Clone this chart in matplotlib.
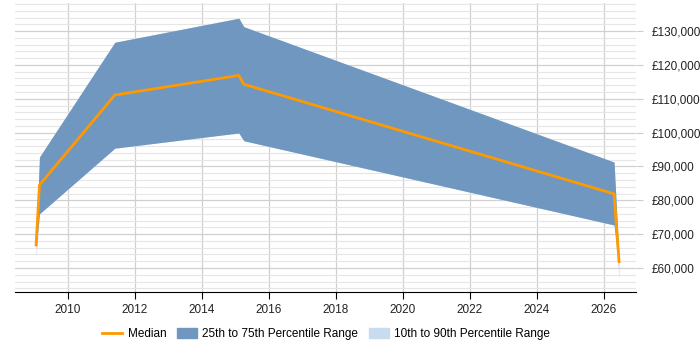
import matplotlib
matplotlib.use("Agg")
import matplotlib.pyplot as plt
from matplotlib.ticker import FuncFormatter, MultipleLocator
from matplotlib.lines import Line2D
from matplotlib.patches import Patch

plt.rcParams['font.family'] = ['Liberation Sans', 'DejaVu Sans']

years = [2009.05, 2009.15, 2011.40, 2015.10, 2015.25, 2026.30, 2026.45]
median = [66800, 84500, 111100, 116900, 114300, 81900, 61900]
p25 = [66000, 76000, 95400, 99900, 97600, 72700, 61000]
p75 = [67600, 92800, 126700, 133800, 131300, 91300, 62600]
p10 = [63000, 76000, 95400, 99900, 97600, 72700, 57000]
p90 = [68000, 92800, 126700, 133800, 131300, 91300, 63000]
xticks = [2010, 2012, 2014, 2016, 2018, 2020, 2022, 2024, 2026]

fig = plt.figure(figsize=(7, 3.5), dpi=100)
ax = fig.add_axes([15/700, 1 - 292/350, (636-15)/700, (292-3)/350])

c_med = '#ff9900'
c_iqr = '#7097c0'
c_dec = '#c9dbee'

ax.fill_between(years, p10, p90, color=c_dec, linewidth=0, zorder=2)
ax.fill_between(years, p25, p75, color=c_iqr, linewidth=0, zorder=3)
ax.plot(years, median, color=c_med, linewidth=2, zorder=4)

ax.set_xlim(2008.42, 2026.955)
ax.set_ylim(52900, 138300)
ax.set_xticks(xticks)
ax.set_xticklabels([str(y) for y in xticks])
ax.yaxis.set_major_locator(MultipleLocator(10000))
ax.yaxis.set_minor_locator(MultipleLocator(2000))
ax.yaxis.set_major_formatter(FuncFormatter(lambda v, p: '£{:,.0f}'.format(v)))
ax.yaxis.tick_right()
ax.tick_params(axis='y', which='both', length=0, labelsize=8.5, pad=6, colors='#222222')
ax.tick_params(axis='y', which='major', length=5, color='#cccccc')
ax.tick_params(axis='x', labelsize=8.5, length=5, colors='#222222')
ax.tick_params(axis='x', color='#000000')

ax.grid(axis='y', which='major', color='#d0d0d0', linewidth=0.9, zorder=0)
ax.grid(axis='y', which='minor', color='#e6e6e6', linewidth=0.8, zorder=0)
ax.grid(axis='x', which='major', color='#d0d0d0', linewidth=0.9, zorder=0)
ax.set_axisbelow(True)
for s in ['left', 'right', 'top']:
    ax.spines[s].set_visible(False)
ax.spines['bottom'].set_color('#000000')

handles = [Line2D([0], [0], color=c_med, linewidth=2),
           Patch(color=c_iqr), Patch(color=c_dec)]
labels = ['Median', '25th to 75th Percentile Range', '10th to 90th Percentile Range']
fig.legend(handles, labels, loc='center', bbox_to_anchor=(0.466, 1 - 334/350), ncol=3,
           frameon=False, fontsize=8.5, handlelength=1.7, handleheight=1.0, columnspacing=0.9,
           handletextpad=0.45)

fig.savefig('out.png', dpi=100)
